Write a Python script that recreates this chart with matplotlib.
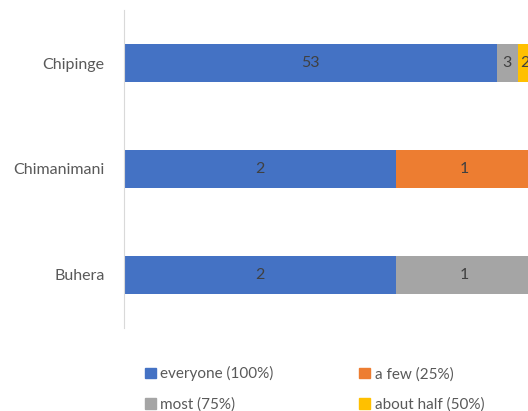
import matplotlib.pyplot as plt
from matplotlib.patches import Patch

plt.rcParams['font.family'] = ['Lato', 'DejaVu Sans']

districts = ["Buhera", "Chimanimani", "Chipinge"]
series = ["everyone (100%)", "a few (25%)", "most (75%)", "about half (50%)"]
everyone = [2, 2, 53]
a_few = [0, 1, 0]
most = [1, 0, 3]
about_half = [0, 0, 2]
colors = ["#4472C4", "#ED7D31", "#A5A5A5", "#FFC000"]


def main():
    fig = plt.figure(figsize=(528 / 100, 411 / 100), dpi=100)
    # axes run a little past the right edge, so the bars get clipped there
    ax = fig.add_axes([124 / 528, 83 / 411, 408 / 528, 318 / 411])

    values = [everyone, a_few, most, about_half]
    totals = [sum(v[i] for v in values) for i in range(len(districts))]
    left = [0.0] * len(districts)
    for name, vals, col in zip(series, values, colors):
        share = [v / t for v, t in zip(vals, totals)]
        ax.barh(range(len(districts)), share, left=left, height=0.35,
                color=col, label=name)
        for i, (v, s) in enumerate(zip(vals, share)):
            if v > 0:
                ax.text(left[i] + s / 2, i, str(v), ha="center", va="center",
                        fontsize=11.5, color="#404040")
        left = [a + b for a, b in zip(left, share)]

    ax.set_xlim(0, 1)
    ax.set_ylim(-0.5, 2.5)
    ax.set_yticks(range(len(districts)))
    ax.set_yticklabels(districts, fontsize=11.5, color="#595959")
    ax.tick_params(axis="y", length=0, pad=14)
    ax.set_xticks([])
    for side in ["top", "right", "bottom"]:
        ax.spines[side].set_visible(False)
    ax.spines["left"].set_color("#D9D9D9")

    handles = [Patch(color=c) for c in colors]
    order = [0, 2, 1, 3]
    fig.legend([handles[i] for i in order], [series[i] for i in order],
               ncol=2, loc="upper left", bbox_to_anchor=(133 / 528, 1 - 354 / 411),
               frameon=False, fontsize=11, labelcolor="#595959",
               handlelength=0.7, handleheight=0.7, handletextpad=0.3,
               columnspacing=5.6, labelspacing=1.05, borderpad=0.3)

    fig.savefig("out.png", dpi=100)


if __name__ == "__main__":
    main()
